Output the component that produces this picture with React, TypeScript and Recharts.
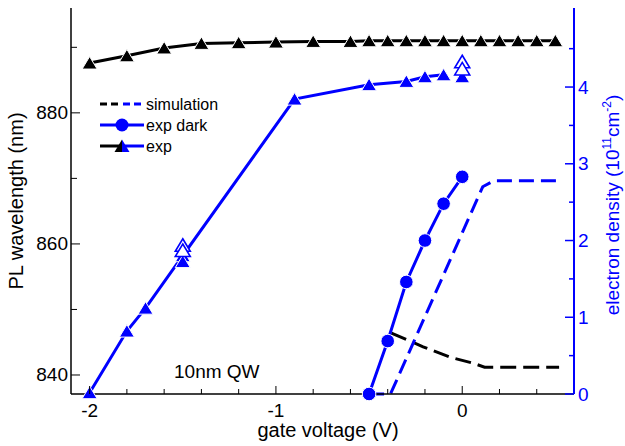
import React from 'react';
import { ComposedChart, Line, XAxis, YAxis, Customized } from 'recharts';

const BLUE = '#0000ff';
const FONT = '"Liberation Sans", Arial, Helvetica, sans-serif';

// axis ticks
const xTicks = [-2, -1.8, -1.6, -1.4, -1.2, -1, -0.8, -0.6, -0.4, -0.2, 0, 0.2, 0.4];
const xLabels = [-2, -1, 0];
const leftTicks = [840, 850, 860, 870, 880, 890];
const leftLabels = [840, 860, 880];
const rightTicks = [0, 0.5, 1, 1.5, 2, 2.5, 3, 3.5, 4, 4.5];
const rightLabels = [0, 1, 2, 3, 4];

// exp (black triangles) – PL wavelength (nm)
const expBlackX = [-2, -1.8, -1.6, -1.4, -1.2, -1, -0.8, -0.6, -0.5, -0.4, -0.3, -0.2, -0.1, 0, 0.1, 0.2, 0.3, 0.4, 0.5];
const expBlackY = [887.6, 888.7, 889.9, 890.6, 890.7, 890.8, 890.9, 890.9, 891, 891, 891, 891, 891, 891, 891, 891, 891, 891, 891];

// exp (blue triangles) – PL wavelength (nm)
const expBlueX = [-2, -1.8, -1.7, -1.5, -0.9, -0.5, -0.3, -0.2, -0.1];
const expBlueY = [837.3, 846.7, 850.2, 858.2, 882.1, 884.3, 884.8, 885.5, 885.8];
const expBlueExtraX = [-1.5, 0];
const expBlueExtraY = [857.3, 885.5];
const expBlueOpenX = [-1.5, -1.5, 0, 0];
const expBlueOpenY = [859.8, 859.0, 887.8, 886.7];

// exp dark (blue circles) – electron density
const darkX = [-0.5, -0.4, -0.3, -0.2, -0.1, 0];
const darkY = [0, 0.69, 1.46, 2.0, 2.48, 2.83];

// simulation
const simDensX = [-0.5, -0.385, 0.11, 0.17, 0.52];
const simDensY = [0, 0, 2.7, 2.78, 2.78];
const simWaveX = [-0.38, -0.21, -0.064, 0.059, 0.12, 0.52];
const simWaveY = [846.4, 844.3, 842.7, 841.8, 841.2, 841.2];

const pts = (xs: number[], ys: number[]) => xs.map((x, i) => ({ x, y: ys[i] }));

const triPath = (cx: number, cy: number) =>
  `M${cx},${cy - 6.5}L${cx + 7.5},${cy + 6}L${cx - 7.5},${cy + 6}Z`;

const triDot = (fill: string, stroke: string, sw: number) => (props: any) => {
  const { cx, cy, index } = props;
  if (cx == null || cy == null || isNaN(cx) || isNaN(cy)) return <g key={`t${index}`} />;
  return <path key={`t${index}`} d={triPath(cx, cy)} fill={fill} stroke={stroke} strokeWidth={sw} />;
};

const circleDot = (props: any) => {
  const { cx, cy, index } = props;
  if (cx == null || cy == null) return <g key={`c${index}`} />;
  return <circle key={`c${index}`} cx={cx} cy={cy} r={6.8} fill={BLUE} stroke="#fff" strokeWidth={1} />;
};

const LeftTick = (props: any) => {
  const { x, y, payload } = props;
  const v = payload.value;
  const major = leftLabels.includes(v);
  return (
    <g>
      <line x1={x} y1={y} x2={x + (major ? 9 : 6)} y2={y} stroke="#000" strokeWidth={1} />
      {major && (
        <text x={x - 3} y={y} textAnchor="end" dominantBaseline="central" fontSize={19} fontFamily={FONT} fill="#000">
          {v}
        </text>
      )}
    </g>
  );
};

const RightTick = (props: any) => {
  const { x, y, payload } = props;
  const v = payload.value;
  const major = rightLabels.includes(v);
  return (
    <g>
      <line x1={x} y1={y} x2={x - (major ? 9 : 5)} y2={y} stroke={BLUE} strokeWidth={1.5} />
      {major && (
        <text x={x + 4} y={y} textAnchor="start" dominantBaseline="central" fontSize={19} fontFamily={FONT} fill={BLUE}>
          {v}
        </text>
      )}
    </g>
  );
};

const BottomTick = (props: any) => {
  const { x, y, payload } = props;
  const v = payload.value;
  const major = xLabels.some((l) => Math.abs(l - v) < 1e-9);
  return (
    <g>
      <line x1={x} y1={y} x2={x} y2={y - (major ? 8 : 5)} stroke="#000" strokeWidth={1} />
      {major && (
        <text x={x} y={y + 23} textAnchor="middle" fontSize={19} fontFamily={FONT} fill="#000">
          {v}
        </text>
      )}
    </g>
  );
};

const TopTick = (props: any) => {
  const { x, y } = props;
  return <line x1={x} y1={y} x2={x} y2={y + 7} stroke="#000" strokeWidth={1} />;
};

const Overlay = () => (
  <g fontFamily={FONT}>
    {/* axis titles */}
    <text transform="translate(23,201) rotate(-90)" textAnchor="middle" fontSize={20} fill="#000">
      PL wavelength (nm)
    </text>
    <text x={328} y={437} textAnchor="middle" fontSize={20} fill="#000">
      gate voltage (V)
    </text>
    <text transform="translate(619,205) rotate(-90)" textAnchor="middle" fontSize={19} fill={BLUE}>
      electron density (10
      <tspan fontSize={12} dy={-8}>11</tspan>
      <tspan dy={8}>cm</tspan>
      <tspan fontSize={12} dy={-8}>-2</tspan>
      <tspan dy={8}>)</tspan>
    </text>
    {/* annotation */}
    <text x={174} y={378} fontSize={19} fill="#000">10nm QW</text>
    {/* legend */}
    <line x1={100} y1={104} x2={121} y2={104} stroke="#000" strokeWidth={3} strokeDasharray="7 4" />
    <line x1={123} y1={104} x2={144} y2={104} stroke={BLUE} strokeWidth={3} strokeDasharray="7 4" />
    <text x={146} y={104} dominantBaseline="central" fontSize={16} fill="#000">simulation</text>
    <line x1={100} y1={125} x2={144} y2={125} stroke={BLUE} strokeWidth={3} />
    <circle cx={122} cy={125} r={6.5} fill={BLUE} />
    <text x={146} y={125} dominantBaseline="central" fontSize={16} fill="#000">exp dark</text>
    <line x1={100} y1={146} x2={122} y2={146} stroke="#000" strokeWidth={3} />
    <line x1={122} y1={146} x2={144} y2={146} stroke={BLUE} strokeWidth={3} />
    <path d="M122,139.5L122,152L114.5,152Z" fill="#000" />
    <path d="M122,139.5L129.5,152L122,152Z" fill={BLUE} />
    <text x={146} y={146} dominantBaseline="central" fontSize={16} fill="#000">exp</text>
  </g>
);

export default function App() {
  return (
    <div style={{ position: 'absolute', left: 0, top: 0, background: '#fff' }}>
      <ComposedChart width={625} height={446} margin={{ top: 8, right: 0, bottom: 0, left: 0 }}>
        <XAxis
          xAxisId="bottom"
          type="number"
          dataKey="x"
          domain={[-2.1, 0.6]}
          ticks={xTicks}
          interval={0}
          height={52}
          tickSize={0}
          tickMargin={0}
          tickLine={false}
          tick={<BottomTick />}
          axisLine={{ stroke: '#000', strokeWidth: 1.5 }}
        />
        <XAxis
          xAxisId="top"
          orientation="top"
          type="number"
          dataKey="x"
          domain={[-2.1, 0.6]}
          ticks={xTicks}
          interval={0}
          height={0}
          tickSize={0}
          tickMargin={0}
          tickLine={false}
          tick={<TopTick />}
          axisLine={{ stroke: '#000', strokeWidth: 1 }}
        />
        <YAxis
          yAxisId="left"
          orientation="left"
          type="number"
          domain={[837.1, 896]}
          ticks={leftTicks}
          interval={0}
          width={71}
          tickSize={0}
          tickMargin={0}
          tickLine={false}
          tick={<LeftTick />}
          axisLine={{ stroke: '#000', strokeWidth: 1.5 }}
        />
        <YAxis
          yAxisId="right"
          orientation="right"
          type="number"
          domain={[0, 5.03]}
          ticks={rightTicks}
          interval={0}
          width={51}
          tickSize={0}
          tickMargin={0}
          tickLine={false}
          tick={<RightTick />}
          axisLine={{ stroke: BLUE, strokeWidth: 2 }}
        />

        <Line
          data={pts(simWaveX, simWaveY)}
          xAxisId="bottom"
          yAxisId="left"
          dataKey="y"
          type="linear"
          stroke="#000"
          strokeWidth={3}
          strokeDasharray="16 7"
          dot={false}
          activeDot={false}
          isAnimationActive={false}
        />
        <Line
          data={pts(simDensX, simDensY)}
          xAxisId="bottom"
          yAxisId="right"
          dataKey="y"
          type="linear"
          stroke={BLUE}
          strokeWidth={3}
          strokeDasharray="15 7"
          dot={false}
          activeDot={false}
          isAnimationActive={false}
        />
        <Line
          data={pts(expBlackX, expBlackY)}
          xAxisId="bottom"
          yAxisId="left"
          dataKey="y"
          type="linear"
          stroke="#000"
          strokeWidth={3}
          dot={triDot('#000', '#fff', 1)}
          activeDot={false}
          isAnimationActive={false}
        />
        <Line
          data={pts(expBlueX, expBlueY)}
          xAxisId="bottom"
          yAxisId="left"
          dataKey="y"
          type="linear"
          stroke={BLUE}
          strokeWidth={3}
          dot={triDot(BLUE, '#fff', 1)}
          activeDot={false}
          isAnimationActive={false}
        />
        <Line
          data={pts(expBlueExtraX, expBlueExtraY)}
          xAxisId="bottom"
          yAxisId="left"
          dataKey="y"
          type="linear"
          stroke="none"
          strokeWidth={0}
          dot={triDot(BLUE, '#fff', 1)}
          activeDot={false}
          isAnimationActive={false}
        />
        <Line
          data={pts(expBlueOpenX, expBlueOpenY)}
          xAxisId="top"
          yAxisId="left"
          dataKey="y"
          type="linear"
          stroke="none"
          strokeWidth={0}
          dot={triDot('#fff', BLUE, 1.6)}
          activeDot={false}
          isAnimationActive={false}
        />
        <Line
          data={pts(darkX, darkY)}
          xAxisId="bottom"
          yAxisId="right"
          dataKey="y"
          type="linear"
          stroke={BLUE}
          strokeWidth={3}
          dot={circleDot}
          activeDot={false}
          isAnimationActive={false}
        />
        <Customized component={<Overlay />} />
      </ComposedChart>
    </div>
  );
}
